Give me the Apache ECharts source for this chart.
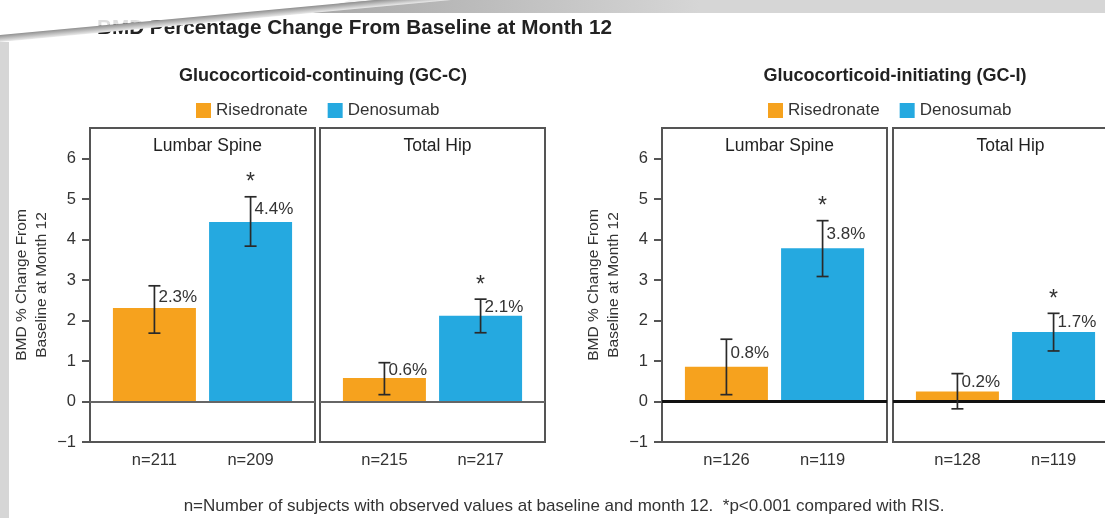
<!DOCTYPE html>
<html><head><meta charset="utf-8">
<script src="https://cdn.jsdelivr.net/npm/echarts@6/dist/echarts.min.js"></script>
<style>html,body{margin:0;padding:0;background:#fff}#c{width:1105px;height:518px}</style>
</head><body><div id="c"></div>
<script>
// ---------- data ----------
const mainTitle = 'BMD Percentage Change From Baseline at Month 12';
const groups = ['Glucocorticoid-continuing (GC-C)', 'Glucocorticoid-initiating (GC-I)'];
const sites = ['Lumbar Spine', 'Total Hip'];
const treatments = ['Risedronate', 'Denosumab'];
// panels: GC-C Lumbar, GC-C Hip, GC-I Lumbar, GC-I Hip ; values [Risedronate, Denosumab]
const nLabels = [['n=211', 'n=209'], ['n=215', 'n=217'], ['n=126', 'n=119'], ['n=128', 'n=119']];
const meanChange = [[2.31, 4.44], [0.58, 2.12], [0.86, 3.79], [0.25, 1.72]];
const ciLow = [[1.69, 3.84], [0.17, 1.70], [0.17, 3.09], [-0.18, 1.25]];
const ciHigh = [[2.86, 5.06], [0.96, 2.53], [1.54, 4.47], [0.69, 2.18]];
const valueLabels = [['2.3%', '4.4%'], ['0.6%', '2.1%'], ['0.8%', '3.8%'], ['0.2%', '1.7%']];
const significant = [[false, true], [false, true], [false, true], [false, true]];
const yTicks = [-1, 0, 1, 2, 3, 4, 5, 6];
const yAxisTitle = 'BMD % Change From\nBaseline at Month 12';
const footnote = 'n=Number of subjects with observed values at baseline and month 12.  *p<0.001 compared with RIS.';

// ---------- layout / style ----------
const FONT = '"Liberation Sans", Arial, sans-serif';
const colors = ['#F6A21E', '#25A9E0'];
const panelLeft = [90, 320, 662, 893];
const panelW = 225, gridTop = 128, gridH = 314;
const groupCenter = [318, 890];

const chart = echarts.init(document.getElementById('c'));

const grid = [], xAxis = [], yAxis = [], series = [];
panelLeft.forEach((l, i) => {
  const first = i % 2 === 0;
  const gci = i >= 2;
  grid.push({left: l, top: gridTop, width: panelW, height: gridH, show: true,
    borderColor: '#555', borderWidth: 2, backgroundColor: 'transparent',
    containLabel: false, outerBoundsMode: 'none'});
  xAxis.push({type: 'value', gridIndex: i, min: 0.33, max: 2.67,
    axisLine: {show: false}, axisTick: {show: false}, splitLine: {show: false},
    axisLabel: {customValues: [1, 2], formatter: v => nLabels[i][Math.round(v) - 1],
      fontSize: 16.5, color: '#333', margin: 10, fontFamily: FONT}});
  yAxis.push({type: 'value', gridIndex: i, min: -1, max: 6.76,
    splitLine: {show: false}, axisLine: {show: false},
    axisTick: {show: first, length: 8, lineStyle: {color: '#555', width: 2}, customValues: yTicks},
    axisLabel: {show: first, customValues: yTicks, fontSize: 16.5, color: '#333', margin: 14, fontFamily: FONT,
      formatter: v => v < 0 ? '\u2212' + Math.abs(v) : String(v)},
    name: first ? yAxisTitle : '', nameLocation: 'middle', nameRotate: 90, nameGap: 38,
    nameTextStyle: {fontSize: 15.5, color: '#333', lineHeight: 20, fontFamily: FONT}});
  treatments.forEach((t, j) => {
    const s = {type: 'bar', name: t, xAxisIndex: i, yAxisIndex: i, silent: true,
      data: [[j + 1, meanChange[i][j]]], barWidth: 83, barGap: '-100%',
      itemStyle: {color: colors[j]}};
    if (j === 1) {
      s.markLine = {symbol: 'none', silent: true, label: {show: false},
        lineStyle: {color: gci ? '#111' : '#666', width: gci ? 3 : 2, type: 'solid'},
        data: [{yAxis: 0}]};
    }
    series.push(s);
  });
  series.push({type: 'custom', xAxisIndex: i, yAxisIndex: i, silent: true, z: 5,
    data: treatments.map((t, j) => [j + 1, meanChange[i][j], ciLow[i][j], ciHigh[i][j]]),
    encode: {x: 0, y: [1, 2, 3]},
    renderItem: (params, api) => {
      const j = params.dataIndex;
      const x = api.value(0);
      const pV = api.coord([x, api.value(1)]);
      const pLo = api.coord([x, api.value(2)]);
      const pHi = api.coord([x, api.value(3)]);
      const cap = 6;
      const st = {stroke: '#2a2a2a', lineWidth: 1.7};
      const children = [
        {type: 'line', shape: {x1: pHi[0], y1: pHi[1], x2: pLo[0], y2: pLo[1]}, style: st},
        {type: 'line', shape: {x1: pHi[0] - cap, y1: pHi[1], x2: pHi[0] + cap, y2: pHi[1]}, style: st},
        {type: 'line', shape: {x1: pLo[0] - cap, y1: pLo[1], x2: pLo[0] + cap, y2: pLo[1]}, style: st},
        {type: 'text', style: {text: valueLabels[i][j], x: pHi[0] + 4, y: (pHi[1] + pV[1]) / 2,
          align: 'left', verticalAlign: 'middle', fontSize: 17, fill: '#333', fontFamily: FONT}}
      ];
      if (significant[i][j]) {
        children.push({type: 'text', style: {text: '*', x: pHi[0], y: pHi[1] - 14,
          align: 'center', verticalAlign: 'middle', fontSize: 23, fill: '#333', fontFamily: FONT}});
      }
      return {type: 'group', children};
    }});
});

const title = [
  {text: mainTitle, left: 92, top: 13, textStyle: {fontSize: 20.7, fontWeight: 'bold', color: '#222', fontFamily: FONT}}
];
groups.forEach((g, k) => {
  title.push({text: g, left: groupCenter[k], top: 62, textAlign: 'center',
    textStyle: {fontSize: 18, fontWeight: 'bold', color: '#222', fontFamily: FONT}});
});
panelLeft.forEach((l, i) => {
  title.push({text: sites[i % 2], left: l + panelW / 2, top: 132, textAlign: 'center',
    textStyle: {fontSize: 17.5, fontWeight: 'normal', color: '#222', fontFamily: FONT}});
});

const legend = groupCenter.map(c => ({data: treatments, left: c - 127, top: 97, icon: 'rect',
  itemWidth: 15, itemHeight: 15, itemGap: 20, selectedMode: false,
  textStyle: {fontSize: 17, color: '#333', fontFamily: FONT}}));

const graphic = [
  {type: 'text', z: 10, style: {text: footnote, x: 564, y: 506, align: 'center', verticalAlign: 'middle',
    fontSize: 17, fill: '#333', fontFamily: FONT}},
  {type: 'rect', z: 20, shape: {x: 0, y: 42, width: 9, height: 476}, style: {fill: '#d6d6d6'}},
  {type: 'polygon', z: 20, shape: {points: [[350, 0], [1105, 0], [1105, 13], [312, 13]]},
    style: {fill: {type: 'linear', x: 312, y: 0, x2: 700, y2: 0, global: true,
      colorStops: [{offset: 0, color: '#a8a8a8'}, {offset: 1, color: '#d6d6d6'}]}}},
  {type: 'polygon', z: 21, shape: {points: [[0, 0], [376, 0], [0, 35]]},
    style: {fill: 'rgba(255,255,255,0.85)'}},
  {type: 'polygon', z: 22, shape: {points: [[0, 35], [376, 0], [451, 0], [0, 42]]},
    style: {fill: {type: 'linear', x: 0, y: 35, x2: 0.65, y2: 42, global: true,
      colorStops: [{offset: 0, color: '#909090'}, {offset: 1, color: '#ececec'}]}}}
];

chart.setOption({backgroundColor: '#fff', animation: false, title, legend, grid, xAxis, yAxis, series, graphic});
</script></body></html>
